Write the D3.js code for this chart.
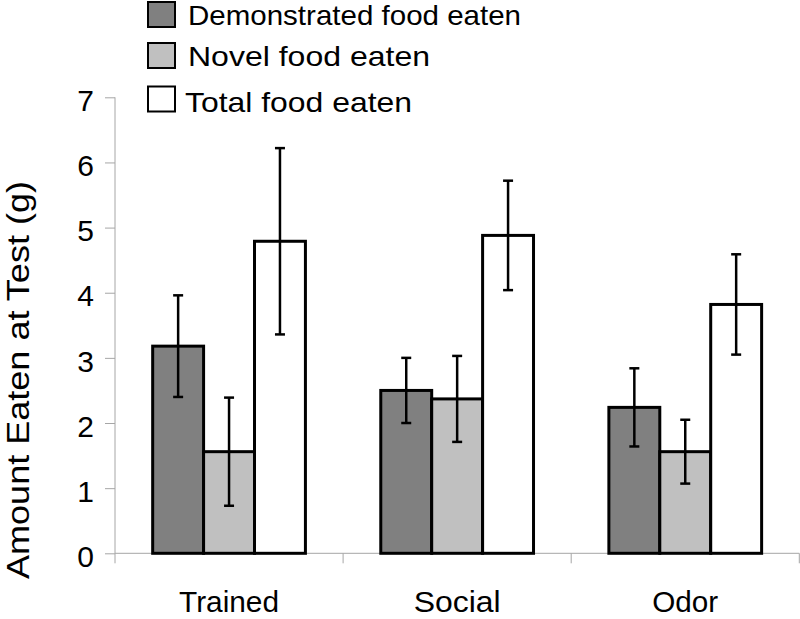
<!DOCTYPE html>
<html>
<head>
<meta charset="utf-8">
<script src="https://cdn.jsdelivr.net/npm/d3@7"></script>
<style>
  html, body { margin: 0; padding: 0; background: #fff; }
  svg { display: block; font-family: "Liberation Sans", Arial, sans-serif; }
</style>
</head>
<body>
<svg id="chart" width="800" height="619"></svg>
<script>
const categories = ["Trained", "Social", "Odor"];
const seriesNames = ["Demonstrated food eaten", "Novel food eaten", "Total food eaten"];
const demonstrated = [3.18, 2.50, 2.24];
const demonstratedErr = [0.78, 0.50, 0.60];
const novel = [1.56, 2.37, 1.56];
const novelErr = [0.83, 0.66, 0.49];
const total = [4.79, 4.88, 3.82];
const totalErr = [1.43, 0.84, 0.77];
const yTicks = [0, 1, 2, 3, 4, 5, 6, 7];
const colors = ["#808080", "#c0c0c0", "#ffffff"];

(function () {
const values = [demonstrated, novel, total];
const errs = [demonstratedErr, novelErr, totalErr];

const svg = d3.select("#chart");
const mLeft = 115, mRight = 799.3, mTop = 97.3, mBottom = 553.3;

const x0 = d3.scaleBand().domain(categories).range([mLeft, mRight]).padding(0);
const x1 = d3.scaleBand().domain(seriesNames).range([0, x0.bandwidth()]).paddingInner(0).paddingOuter(0.74);
const y = d3.scaleLinear().domain([0, 7]).range([mBottom, mTop]);

const axisColor = "#a6a6a6";

// Y axis
const yAxis = svg.append("g").attr("transform", `translate(${mLeft},0)`)
  .call(d3.axisLeft(y).tickValues(yTicks).tickSize(10).tickPadding(11).tickFormat(d3.format("d")));
yAxis.select(".domain").attr("stroke", axisColor).attr("d", `M0,${mTop}V${mBottom}`);
yAxis.selectAll(".tick line").attr("stroke", axisColor);
yAxis.selectAll(".tick text").attr("font-size", 30).attr("fill", "#000").attr("dy", "0.44em")
  .attr("font-family", "'Liberation Sans', Arial, sans-serif");

// X axis
const xAxisG = svg.append("g").attr("transform", `translate(0,${mBottom})`);
xAxisG.append("line").attr("x1", mLeft).attr("x2", mRight).attr("y1", 0).attr("y2", 0).attr("stroke", axisColor);
const boundaries = categories.map(c => x0(c)).concat([x0(categories[categories.length - 1]) + x0.bandwidth()]);
xAxisG.selectAll(".xt").data(boundaries).join("line")
  .attr("x1", d => d).attr("x2", d => d).attr("y1", 0).attr("y2", 10).attr("stroke", axisColor);
xAxisG.selectAll(".xl").data(categories).join("text")
  .attr("x", d => x0(d) + x0.bandwidth() / 2)
  .attr("y", 59)
  .attr("text-anchor", "middle")
  .attr("font-size", 29)
  .attr("textLength", d => ({"Trained": 100, "Social": 87, "Odor": 66})[d])
  .attr("lengthAdjust", "spacingAndGlyphs")
  .text(d => d);

// Bars
const groups = svg.append("g").selectAll("g").data(categories).join("g")
  .attr("transform", d => `translate(${x0(d)},0)`);

groups.each(function(cat, ci) {
  const g = d3.select(this);
  seriesNames.forEach((s, si) => {
    const v = values[si][ci];
    const e = errs[si][ci];
    const bx = x1(s);
    const bw = x1.bandwidth();
    g.append("rect")
      .attr("x", bx).attr("y", y(v))
      .attr("width", bw).attr("height", y(0) - y(v))
      .attr("fill", colors[si]).attr("stroke", "#000").attr("stroke-width", 3);
    const cx = bx + bw / 2;
    g.append("line").attr("x1", cx).attr("x2", cx).attr("y1", y(v + e)).attr("y2", y(v - e))
      .attr("stroke", "#000").attr("stroke-width", 2.5);
    [v + e, v - e].forEach(t => {
      g.append("line").attr("x1", cx - 5).attr("x2", cx + 5).attr("y1", y(t)).attr("y2", y(t))
        .attr("stroke", "#000").attr("stroke-width", 2.5);
    });
  });
});

// Y axis title
svg.append("text")
  .attr("transform", `translate(29,380) rotate(-90)`)
  .attr("text-anchor", "middle")
  .attr("font-size", 31)
  .attr("textLength", 398)
  .attr("lengthAdjust", "spacingAndGlyphs")
  .text("Amount Eaten at Test (g)");

// Legend
const legendRows = [
  { y: 2, base: 24.5, tx: 188, len: 333 },
  { y: 43, base: 65.5, tx: 188, len: 242 },
  { y: 86.5, base: 112, tx: 185, len: 227 }
];
const legend = svg.append("g");
seriesNames.forEach((s, i) => {
  const r = legendRows[i];
  legend.append("rect").attr("x", 148).attr("y", r.y).attr("width", 27).attr("height", 25)
    .attr("fill", colors[i]).attr("stroke", "#000").attr("stroke-width", 2);
  legend.append("text").attr("x", r.tx).attr("y", r.base)
    .attr("font-size", 28.5)
    .attr("textLength", r.len)
    .attr("lengthAdjust", "spacingAndGlyphs")
    .text(s);
});
})();
</script>
</body>
</html>
